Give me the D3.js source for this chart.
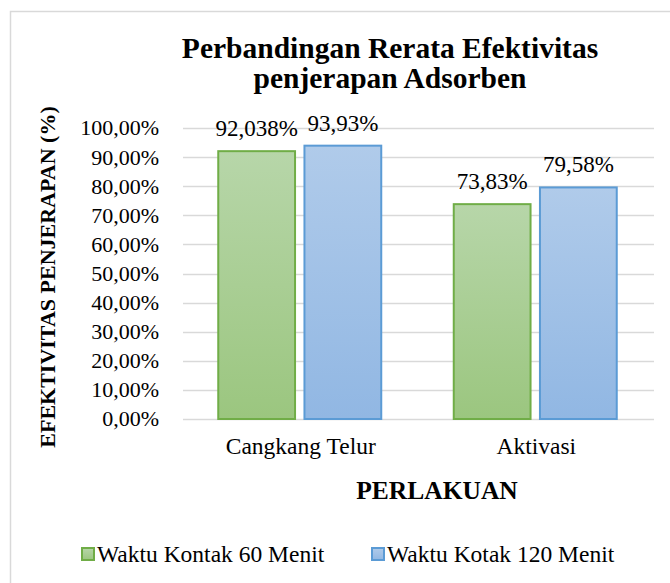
<!DOCTYPE html>
<html>
<head>
<meta charset="utf-8">
<script src="https://cdn.jsdelivr.net/npm/d3@7"></script>
<style>
  body { margin: 0; background: #fff; }
  text { font-family: "Liberation Serif", "Times New Roman", serif; fill: #000; }
</style>
</head>
<body>
<div id="chart"></div>
<script>
// data
const categories = ["Cangkang Telur", "Aktivasi"];
const seriesNames = ["Waktu Kontak 60 Menit", "Waktu Kotak 120 Menit"];
const values60 = [92.038, 73.83];
const values120 = [93.93, 79.58];
const valueLabels60 = ["92,038%", "73,83%"];
const valueLabels120 = ["93,93%", "79,58%"];
const yTicks = [0, 10, 20, 30, 40, 50, 60, 70, 80, 90, 100];

const width = 670, height = 583;
const margin = { top: 128, right: 16, bottom: 164, left: 183 };

const svg = d3.select("#chart").append("svg")
    .attr("width", width)
    .attr("height", height);

// gradients
const defs = svg.append("defs");
const grads = [
  { id: "gGreen", top: "#b7d6a9", bottom: "#9bc67f" },
  { id: "gBlue", top: "#b0cbea", bottom: "#91b7e3" }
];
grads.forEach(g => {
  const lg = defs.append("linearGradient").attr("id", g.id)
      .attr("x1", 0).attr("y1", 0).attr("x2", 0).attr("y2", 1);
  lg.append("stop").attr("offset", "0%").attr("stop-color", g.top);
  lg.append("stop").attr("offset", "100%").attr("stop-color", g.bottom);
});
const fills = ["url(#gGreen)", "url(#gBlue)"];
const strokes = ["#70ad47", "#5b9bd5"];

// chart border
svg.append("rect")
    .attr("x", 10.5).attr("y", 11.5)
    .attr("width", width + 20).attr("height", height + 20)
    .attr("fill", "none").attr("stroke", "#d9d9d9").attr("stroke-width", 1.5);

const plotW = width - margin.left - margin.right;
const plotH = height - margin.top - margin.bottom;
const g = svg.append("g").attr("transform", `translate(${margin.left},${margin.top})`);

const x0 = d3.scaleBand().domain(categories).range([0, plotW]).paddingInner(0).paddingOuter(0);
const x1 = d3.scaleBand().domain([0, 1]).range([0, 164]).paddingInner(16 / 164);
const y = d3.scaleLinear().domain([0, 100]).range([plotH, 0]);

// gridlines
g.append("g").selectAll("line")
  .data(yTicks)
  .join("line")
    .attr("x1", 0).attr("x2", plotW)
    .attr("y1", d => Math.round(y(d)) + 0.5).attr("y2", d => Math.round(y(d)) + 0.5)
    .attr("stroke", "#d9d9d9").attr("stroke-width", 1.5);

// y tick labels
const fmt = d => d3.format(".2f")(d).replace(".", ",") + "%";
g.append("g").selectAll("text")
  .data(yTicks)
  .join("text")
    .attr("x", -24).attr("y", d => y(d))
    .attr("dy", "0.34em")
    .attr("text-anchor", "end")
    .style("font-size", "22px")
    .text(fmt);

// bars
const rows = categories.map((c, i) => ({
  cat: c,
  vals: [values60[i], values120[i]],
  labels: [valueLabels60[i], valueLabels120[i]]
}));
const groups = g.selectAll("g.cat")
  .data(rows)
  .join("g").attr("class", "cat")
    .attr("transform", d => `translate(${x0(d.cat) + x0.bandwidth() / 2 - 83},0)`);

groups.selectAll("rect")
  .data(d => d.vals)
  .join("rect")
    .attr("x", (d, i) => x1(i) + 0.5)
    .attr("y", d => y(d))
    .attr("width", x1.bandwidth() - 1)
    .attr("height", d => y(0) - y(d))
    .attr("fill", (d, i) => fills[i])
    .attr("stroke", (d, i) => strokes[i])
    .attr("stroke-width", 2);

groups.selectAll("text.lbl")
  .data(d => d.vals.map((v, i) => ({ v, t: d.labels[i] })))
  .join("text").attr("class", "lbl")
    .attr("x", (d, i) => x1(i) + x1.bandwidth() / 2)
    .attr("y", d => y(d.v) - 15)
    .attr("text-anchor", "middle")
    .style("font-size", "23px")
    .text(d => d.t);

// category labels
g.append("g").selectAll("text")
  .data(categories)
  .join("text")
    .attr("x", d => x0(d) + x0.bandwidth() / 2)
    .attr("y", plotH + 35)
    .attr("text-anchor", "middle")
    .style("font-size", "23.5px")
    .text(d => d);

// title
const title = svg.append("text")
    .attr("text-anchor", "middle")
    .style("font-size", "29.5px").style("font-weight", "bold");
title.append("tspan").attr("x", 390).attr("y", 58).text("Perbandingan Rerata Efektivitas");
title.append("tspan").attr("x", 390).attr("y", 88).text("penjerapan Adsorben");

// axis titles
svg.append("text")
    .attr("transform", "translate(55,277) rotate(-90)")
    .attr("text-anchor", "middle")
    .style("font-size", "22px").style("font-weight", "bold")
    .text("EFEKTIVITAS PENJERAPAN (%)");

svg.append("text")
    .attr("x", 437).attr("y", 499)
    .attr("text-anchor", "middle")
    .style("font-size", "25.5px").style("font-weight", "bold")
    .text("PERLAKUAN");

// legend
const legendX = [81, 371];
const leg = svg.append("g").selectAll("g")
  .data(seriesNames)
  .join("g")
    .attr("transform", (d, i) => `translate(${legendX[i]},547)`);
leg.append("rect")
    .attr("x", 1).attr("y", 1).attr("width", 12).attr("height", 12)
    .attr("fill", (d, i) => fills[i])
    .attr("stroke", (d, i) => strokes[i]).attr("stroke-width", 2);
leg.append("text")
    .attr("x", 16).attr("y", 15)
    .style("font-size", "23.5px")
    .text(d => d);
</script>
</body>
</html>
